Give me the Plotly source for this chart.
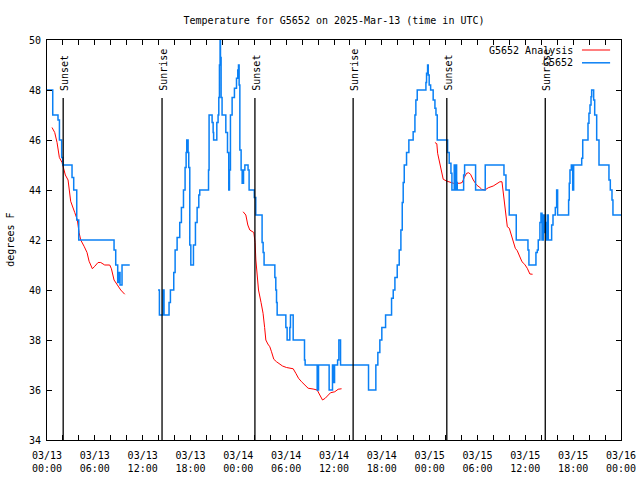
import pandas as pd
import plotly.graph_objects as go

# ---------------- data (hours after 2025-03-13 00:00 UTC) ----------------
BASE = pd.Timestamp("2025-03-13 00:00")

obs_hours = [0, 0.72, 1.38, 1.56, 1.84, 1.97, 3.14, 3.35, 3.73, 3.98, 8.41, 8.62, 8.87, 9.06, 9.16, 9.41, 10.38,
             12.0,
             13.93, 14.1, 14.56, 14.68, 15.31, 15.48, 15.9, 16.07, 16.32, 16.65, 16.86, 17.12, 17.32, 17.45, 17.53,
             17.7, 17.78, 17.91, 18.04, 18.37, 18.62, 18.83, 19.04, 19.16, 20.26, 20.33, 20.71, 20.84, 20.9, 21.3,
             21.46, 21.55, 21.63, 21.71, 21.76, 21.84, 21.96, 22.43, 22.64, 22.8, 22.89, 23.01, 23.22, 23.51, 23.77,
             23.93, 24.02, 24.1, 24.19, 24.35, 24.48, 24.65, 24.82, 25.22, 25.35, 26.0, 26.19, 26.98, 27.11, 27.23,
             28.58, 28.7, 28.79, 28.87, 29.96, 30.12, 30.46, 30.54, 30.88, 32.3, 32.38, 33.89, 34.06, 35.39, 35.81,
             35.9, 36.07, 36.45, 36.61, 36.82, 40.33, 41.25, 41.5, 41.75, 42.0, 42.47, 43.22, 43.43, 43.64, 43.93,
             44.18, 44.39, 44.56, 44.68, 44.81, 45.1, 45.39, 45.93, 46.15, 46.27, 46.44, 47.53, 47.61, 47.74, 47.82,
             47.94, 48.12, 48.44, 48.66, 48.79, 48.95, 50.25, 50.45, 50.67, 50.79, 51.08, 51.17, 51.29, 51.38, 51.46,
             52.26, 52.38, 53.76, 54.97, 57.32, 57.57, 57.98, 58.86, 60.33, 60.45, 61.33, 61.5, 61.62, 61.83, 61.96,
             62.09, 62.25, 62.38, 62.59, 62.67, 62.75, 62.88, 63.3, 63.47, 63.76, 63.93, 64.05, 65.43, 65.51, 65.6,
             65.77, 65.94, 66.06, 67.07, 67.2, 67.86, 67.98, 68.11, 68.24, 68.32, 68.57, 68.7, 68.95, 69.24, 70.49,
             70.66, 70.87, 70.99, 72.0]
obs_temps = [48, 47, 46.8, 46, 45.3, 45, 44.5, 44, 42.8, 42, 41.6, 41, 40.3, 40.7, 40.2, 41, 41,
             None,
             40, 39, 40, 39, 39.5, 40, 40.7, 41.6, 42.1, 42.7, 43.3, 44, 44.9, 45.5, 46,
             45.5, 44.9, 41.8, 41, 41.8, 42.7, 43.3, 43.8, 44, 44.8, 47, 46.7, 46.3, 46, 46.7,
             47, 47.7, 49, 50, 49.3, 47.7, 47, 46.3, 45.5, 44, 44.8, 47, 47.7, 48.07, 48.47,
             48.8, 49, 48.2, 45.6, 44.8, 44.27, 44.8, 45, 44.8, 44, 43.7, 43, 41.9, 41.5, 41,
             40.5, 40, 39.5, 39, 38.5, 38, 38.5, 39, 38, 37.2, 37, 36, 37, 36, 37,
             36.3, 37, 37.2, 38, 37, 36, 37, 37.5, 38, 38.5, 39, 39.67, 40, 40.5, 41,
             41.6, 42.4, 43.5, 44.3, 45, 45.5, 46, 46.33, 47, 47.6, 48, 48.3, 48.67, 49, 48.6,
             48.2, 48, 47.6, 47.27, 47, 46, 45.5, 45.07, 44.67, 44, 45, 44, 45, 44.3, 44,
             44.6, 45, 44, 45, 44.6, 44, 43, 42, 41.6, 41, 41.5, 41.6, 42, 42.7, 43.07,
             42, 43, 42.3, 42.7, 42, 43, 42, 42.6, 43, 43.3, 44, 43, 43.6, 44.27, 44.8,
             45, 44, 45, 45.27, 46, 46.67, 47.07, 47.4, 47.73, 48, 47.6, 47, 46, 45, 44.4,
             44, 43.6, 43, 43]

analysis_hours = [0.63, 0.97, 1.26, 1.55, 1.89, 2.05, 2.3, 2.64, 2.97, 3.48, 3.81, 4.02, 4.23, 4.65, 5.02, 5.28,
                  5.69, 5.99, 6.4, 6.74, 7.24, 7.87, 8.08, 8.41, 8.71, 9.25, 9.75,
                  16.0,
                  24.6, 24.94, 25.19, 25.44, 25.94, 26.1, 26.2, 26.36, 26.53, 26.85, 27.1, 27.3, 27.45, 27.7, 27.95,
                  28.16, 28.45, 28.79, 29.2, 29.54, 30.04, 30.46, 30.88, 31.21, 31.55, 31.93, 32.35, 32.76, 33.38,
                  33.89, 34.22, 34.56, 34.9, 35.23, 35.56, 36.1, 36.52, 36.95,
                  42.0,
                  48.66, 48.9, 49.0, 49.28, 49.54, 49.7, 50.12, 50.54, 50.96, 51.79, 52.08, 52.35, 52.64, 52.89,
                  53.13, 53.47, 53.89, 54.3, 54.52, 54.93, 55.35, 55.97, 56.4, 56.81, 57.07, 57.23, 57.4, 57.57,
                  57.74, 57.99, 58.24, 58.49, 58.74, 58.99, 59.24, 59.58, 59.91, 60.24, 60.57, 60.91]
analysis_temps = [46.5, 46.3, 45.9, 45.3, 45.1, 44.9, 44.6, 44.4, 43.55, 43.1, 42.8, 42.3, 42.0, 41.75, 41.5, 41.15,
                  40.85, 40.95, 41.1, 41.1, 41.0, 41.0, 40.85, 40.4, 40.25, 40.0, 39.83,
                  None,
                  43.13, 43.0, 42.6, 42.4, 42.3, 41.9, 41.2, 40.67, 40.0, 39.5, 39.07, 38.5, 38.0, 37.84, 37.73,
                  37.53, 37.23, 37.13, 37.05, 36.96, 36.9, 36.87, 36.85, 36.67, 36.47, 36.33, 36.2, 36.07, 36.04,
                  36.0, 35.8, 35.6, 35.67, 35.8, 35.89, 35.93, 36.03, 36.05,
                  None,
                  45.9, 45.85, 45.47, 45.07, 44.6, 44.43, 44.36, 44.3, 44.27, 44.27, 44.3, 44.51, 44.67, 44.69,
                  44.63, 44.4, 44.2, 44.1, 44.03, 44.0, 44.09, 44.16, 44.23, 44.33, 44.33, 43.93, 43.53, 42.93,
                  42.53, 42.47, 42.2, 41.93, 41.67, 41.57, 41.4, 41.13, 41.03, 40.87, 40.64, 40.63]

event_labels = ["Sunset", "Sunrise", "Sunset", "Sunrise", "Sunset", "Sunrise"]
event_hours = [2.03, 14.43, 26.08, 38.4, 50.15, 62.5]

series_names = ["G5652 Analysis", "G5652"]
series_colors = ["#ff0000", "#0a80f5"]


def to_time(hours):
    return [BASE + pd.Timedelta(hours=h) for h in hours]


MONO = "DejaVu Sans Mono"

fig = go.Figure()
fig.add_trace(go.Scatter(x=to_time(analysis_hours), y=analysis_temps, mode="lines",
                         line=dict(color=series_colors[0], width=1), connectgaps=False,
                         name=series_names[0], showlegend=False))
fig.add_trace(go.Scatter(x=to_time(obs_hours), y=obs_temps, mode="lines",
                         line=dict(color=series_colors[1], width=1.5, shape="hv"), connectgaps=False,
                         name=series_names[1], showlegend=False))

shapes = []
annotations = []
for lab, h in zip(event_labels, event_hours):
    t = BASE + pd.Timedelta(hours=h)
    shapes.append(dict(type="line", xref="x", yref="paper", x0=t, x1=t, y0=0, y1=0.855,
                       line=dict(color="black", width=1.3)))
    annotations.append(dict(text=lab, x=t, xref="x", y=0.868, yref="paper", textangle=-90,
                            xanchor="center", yanchor="bottom", showarrow=False, xshift=2,
                            font=dict(family=MONO, size=10, color="black")))

# gnuplot-style legend (text then sample line), top right inside the plot
legend_y = [0.975, 0.943]
for name, color, ly in zip(series_names, series_colors, legend_y):
    annotations.append(dict(text=name, x=0.919, xref="paper", y=ly, yref="paper",
                            xanchor="right", yanchor="middle", showarrow=False,
                            font=dict(family=MONO, size=10, color="black")))
    shapes.append(dict(type="line", xref="paper", yref="paper", x0=0.932, x1=0.981, y0=ly, y1=ly,
                       line=dict(color=color, width=1.5 if color == series_colors[1] else 1)))

annotations.append(dict(text="degrees F", x=-0.065, xref="paper", y=0.5, yref="paper", textangle=-90,
                        xanchor="center", yanchor="middle", showarrow=False,
                        font=dict(family=MONO, size=10, color="black")))

fig.update_layout(
    width=640, height=480,
    margin=dict(l=47, r=19, t=40, b=40, autoexpand=False),
    paper_bgcolor="white", plot_bgcolor="white",
    font=dict(family=MONO, size=10, color="black"),
    title=dict(text="Temperature for G5652 on 2025-Mar-13 (time in UTC)", x=0.5, xref="paper",
               xanchor="center", y=1 - 20 / 480, yanchor="middle",
               font=dict(family=MONO, size=10, color="black")),
    shapes=shapes, annotations=annotations,
    showlegend=False,
    xaxis=dict(type="date", range=[BASE, BASE + pd.Timedelta(hours=72)], automargin=False,
               tick0=BASE, dtick=6 * 3600 * 1000, tickformat="%m/%d<br>%H:%M",
               ticks="inside", ticklen=5, tickcolor="black", tickwidth=1, ticklabelstandoff=6,
               showline=True, linecolor="black", linewidth=1, mirror="ticks",
               showgrid=False, zeroline=False,
               minor=dict(dtick=2 * 3600 * 1000, ticks="inside", ticklen=5, tickcolor="black", showgrid=False),
               tickfont=dict(family=MONO, size=10, color="black")),
    yaxis=dict(range=[34, 50], tick0=34, dtick=2, automargin=False,
               ticks="inside", ticklen=5, tickcolor="black", tickwidth=1, ticklabelstandoff=3,
               showline=True, linecolor="black", linewidth=1, mirror="ticks",
               showgrid=False, zeroline=False,
               tickfont=dict(family=MONO, size=10, color="black")),
)

# remove the browser's default 8px page margin so the 640x480 figure fills the window
fig.write_html("out.html", config={"displayModeBar": False},
               post_script="document.body.style.margin='0px';document.body.style.overflow='hidden';")
